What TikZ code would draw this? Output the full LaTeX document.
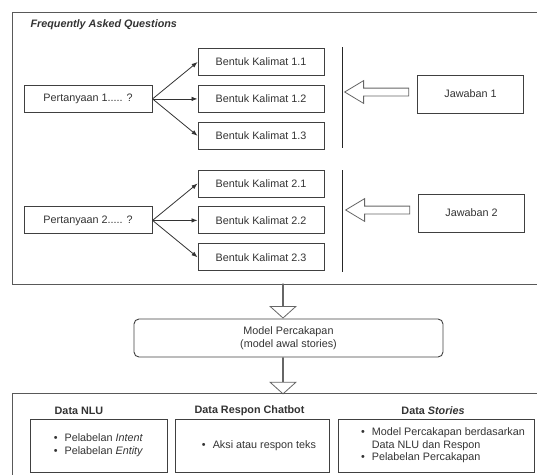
\documentclass[tikz,border=0pt]{standalone}
\usepackage{fontspec}
\setmainfont{Liberation Sans}
\usetikzlibrary{positioning, calc, arrows.meta, shapes.arrows}

\begin{document}
\begin{tikzpicture}[
                x=1pt, y=-1pt,
                font=\fontsize{10.8}{12.5}\selectfont,
                every node/.style={text=black!80},
                frame/.style={draw=black!65, line width=0.9pt},
                block/.style={rectangle, draw=black!75, line width=0.9pt, minimum height=27pt, inner sep=2pt, align=center},
                kalimat/.style={block, minimum width=126pt},
                tanya/.style={block, minimum width=128pt},
                answer/.style={block, minimum width=106pt, minimum height=38pt},
                model/.style={block, rounded corners=5pt, minimum width=309pt, minimum height=38pt},
                databox/.style={block, minimum height=53pt},
                head/.style={font=\fontsize{10.8}{12.5}\selectfont\bfseries},
                line/.style={draw=black!80, line width=0.8pt, -{Latex[length=6pt, width=4.5pt]}},
                bar/.style={draw=black!85, line width=1pt},
                hollowleft/.style={single arrow, draw=black!60, fill=white, line width=0.8pt, shape border rotate=180,
                    inner xsep=0pt, inner ysep=3.5pt, single arrow head extend=7.5pt, single arrow tip angle=62, minimum height=64pt},
                hollowdown/.style={single arrow, draw=black!60, fill=white, line width=0.8pt, shape border rotate=270,
                    inner xsep=0pt, inner ysep=7.5pt, single arrow head extend=12.5pt, single arrow tip angle=96}
            ]
                \useasboundingbox (0,0) rectangle (537,474);
                \clip (0,0) rectangle (537,474);

                % Frame: Frequently Asked Questions
                \draw[frame] (12,12) rectangle (548,284);
                \node[anchor=west, font=\fontsize{10.8}{12.5}\selectfont\bfseries\itshape] (faq) at (27,25) {Frequently Asked Questions};

                % Pertanyaan 1
                \node[kalimat] (kal11) at (261,62) {Bentuk Kalimat 1.1};
                \node[kalimat, below=9pt of kal11] (kal12) {Bentuk Kalimat 1.2};
                \node[kalimat, below=9pt of kal12] (kal13) {Bentuk Kalimat 1.3};
                \node[tanya, left=45pt of kal12] (tanya1) {Pertanyaan 1..... ?};

                \path[line] (tanya1.east) -- (kal11.west);
                \path[line] (tanya1.east) -- (kal12.west);
                \path[line] (tanya1.east) -- (kal13.west);

                % Pertanyaan 2
                \node[kalimat] (kal21) at (261,183.5) {Bentuk Kalimat 2.1};
                \node[kalimat, below=9pt of kal21] (kal22) {Bentuk Kalimat 2.2};
                \node[kalimat, below=9pt of kal22] (kal23) {Bentuk Kalimat 2.3};
                \node[tanya, left=45pt of kal22] (tanya2) {Pertanyaan 2..... ?};

                \path[line] (tanya2.east) -- (kal21.west);
                \path[line] (tanya2.east) -- (kal22.west);
                \path[line] (tanya2.east) -- (kal23.west);

                % Jawaban
                \coordinate (bar1a) at (342,47);
                \coordinate (bar1b) at (342,148);
                \coordinate (bar2a) at (342,170);
                \coordinate (bar2b) at (342,272);
                \draw[bar] (bar1a) -- (bar1b);
                \draw[bar] (bar2a) -- (bar2b);

                \node[answer] (jaw1) at (470.5,94) {Jawaban 1};
                \node[answer] (jaw2) at (471.5,213) {Jawaban 2};
                \node[hollowleft, anchor=tail] (panah1) at ($(jaw1.west)+(-8,-2)$) {};
                \node[hollowleft, anchor=tail] (panah2) at ($(jaw2.west)+(-8,-3)$) {};

                % Model Percakapan
                \node[model] (model) at (288.5,338) {Model Percakapan\\(model awal stories)};
                \node[hollowdown, anchor=tip, minimum height=34pt] (panah3) at ($(model.north)+(-5.5,0)$) {};
                \node[hollowdown, anchor=tail, minimum height=36pt] (panah4) at ($(model.south)+(-5.5,0)$) {};

                % Frame: data
                \draw[frame] (12,393) rectangle (548,500);
                \node[head] (hnlu) at (79,411) {Data NLU};
                \node[head] (hchat) at (249.5,411) {Data Respon Chatbot};
                \node[head] (hstory) at (433,411) {Data \textit{Stories}};

                \node[databox, minimum width=137pt] (nlu) at (98.5,445.5)
                    {\begin{tabular}{@{}l@{\hspace{7pt}}l@{}}\textbullet & Pelabelan \textit{Intent}\\ \textbullet & Pelabelan \textit{Entity}\end{tabular}};
                \node[databox, minimum width=154pt] (chat) at (252,445.5)
                    {\hspace*{14pt}\begin{tabular}{@{}l@{\hspace{7pt}}l@{}}\textbullet & Aksi atau respon teks\end{tabular}};
                \node[databox, minimum width=196pt] (story) at (436,445.5)
                    {\hspace*{14pt}\begin{tabular}{@{}l@{\hspace{7pt}}l@{}}\textbullet & Model Percakapan berdasarkan\\ & Data NLU dan Respon\\ \textbullet & Pelabelan Percakapan\end{tabular}};
            \end{tikzpicture}
\end{document}
